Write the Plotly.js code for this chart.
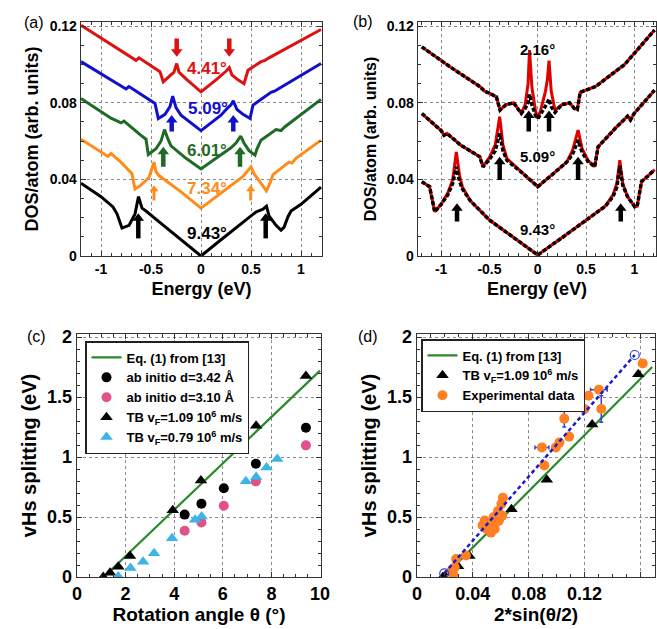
<!DOCTYPE html>
<html><head><meta charset="utf-8">
<script src="https://cdn.plot.ly/plotly-3.0.1.min.js"></script>
<style>html,body{margin:0;padding:0;background:#fff}</style>
</head><body><div id="chart" style="width:657px;height:629px"></div>
<script>
// ---------- Panel (a): DOS curves (offset) ----------
const a_E_943 = [-1.2,-1.0,-0.88,-0.84,-0.79,-0.72,-0.66,-0.625,-0.59,-0.55,-0.4,-0.2,0,0.2,0.4,0.55,0.62,0.655,0.68,0.75,0.80,0.83,0.87,0.9,1.0,1.2];
const a_D_943 = [0.038,0.031,0.0256,0.022,0.0146,0.016,0.022,0.031,0.025,0.0235,0.017,0.0085,0,0.0085,0.017,0.023,0.0245,0.026,0.021,0.016,0.0135,0.015,0.0205,0.0235,0.027,0.036];
const a_E_734 = [-1.2,-1.0,-0.93,-0.9,-0.8,-0.69,-0.66,-0.6,-0.52,-0.47,-0.45,-0.42,-0.2,0,0.2,0.42,0.46,0.5,0.53,0.6,0.655,0.69,0.72,0.88,0.91,0.95,1.2];
const a_D_734 = [0.061,0.054,0.052,0.0535,0.049,0.043,0.035,0.037,0.041,0.049,0.044,0.042,0.0335,0.025,0.033,0.0415,0.044,0.0466,0.043,0.038,0.034,0.038,0.0425,0.049,0.0485,0.051,0.0605];
const a_E_601 = [-1.2,-0.9,-0.8,-0.77,-0.6,-0.55,-0.527,-0.45,-0.4,-0.365,-0.33,-0.3,-0.15,0,0.15,0.3,0.35,0.397,0.43,0.48,0.54,0.56,0.6,0.75,0.8,0.84,1.2];
const a_D_601 = [0.0823,0.072,0.0695,0.0705,0.063,0.061,0.053,0.056,0.060,0.066,0.061,0.0575,0.051,0.0455,0.051,0.0565,0.059,0.0626,0.059,0.055,0.0527,0.056,0.0605,0.066,0.0655,0.0675,0.0818];
const a_E_509 = [-1.2,-0.8,-0.75,-0.72,-0.46,-0.427,-0.36,-0.31,-0.283,-0.25,-0.2,0,0.2,0.26,0.3,0.323,0.36,0.42,0.49,0.52,0.7,0.74,0.78,1.2];
const a_D_509 = [0.1015,0.0885,0.0872,0.0885,0.0797,0.0718,0.074,0.078,0.0835,0.0775,0.0735,0.0655,0.0735,0.077,0.079,0.081,0.0765,0.074,0.0718,0.0788,0.0855,0.0862,0.0875,0.1005];
const a_E_441 = [-1.2,-0.7,-0.65,-0.62,-0.41,-0.377,-0.32,-0.27,-0.243,-0.22,-0.15,0,0.15,0.22,0.26,0.283,0.31,0.37,0.43,0.47,0.6,0.64,0.68,1.2];
const a_D_441 = [0.1205,0.104,0.1022,0.1035,0.0962,0.091,0.0935,0.096,0.1005,0.096,0.0925,0.0857,0.092,0.095,0.097,0.0984,0.0945,0.092,0.090,0.097,0.1015,0.1022,0.1035,0.1183];
const a_labels = ['4.41°','5.09°','6.01°','7.34°','9.43°'];
const a_labelE = [0.057,0.07,0.057,0.057,0.057];
const a_labelD = [0.098,0.077,0.055,0.0353,0.0115];
const a_arrowE = [[-0.243,0.283],[-0.293,0.323],[-0.377,0.39],[-0.47,0.497],[-0.627,0.647]];
const a_arrowTip = [0.104,0.0736,0.057,0.037,0.0223];
const a_arrowBase = [0.1136,0.065,0.0466,0.029,0.0092];
const a_colors = ['#dd1111','#1111cc','#1f6b25','#ff8c1a','#000000'];

// ---------- Panel (b): TB (red) vs ab initio (black dotted) ----------
const b_E_943 = [-1.2,-1.12,-1.067,-1.0,-0.93,-0.88,-0.843,-0.81,-0.78,-0.7,-0.5,-0.25,0,0.25,0.5,0.7,0.78,0.82,0.85,0.88,0.93,1.005,1.03,1.075,1.21];
const b_blk_943 = [0.0388,0.0362,0.0231,0.027,0.032,0.038,0.0466,0.039,0.035,0.029,0.0188,0.0095,0.0005,0.0095,0.0185,0.026,0.031,0.036,0.047,0.037,0.031,0.0257,0.026,0.0388,0.045];
const b_red_943 = [0.0388,0.0362,0.0231,0.027,0.033,0.040,0.0544,0.042,0.036,0.029,0.0188,0.0095,0.0005,0.0095,0.0185,0.026,0.032,0.038,0.050,0.038,0.031,0.0257,0.026,0.0388,0.045];
const b_E_509 = [-1.2,-1.0,-0.97,-0.94,-0.8,-0.6,-0.567,-0.5,-0.44,-0.394,-0.36,-0.32,-0.15,0,0.15,0.3,0.36,0.418,0.46,0.52,0.59,0.625,0.8,0.93,0.96,1.0,1.21];
const b_blk_509 = [0.0744,0.0655,0.063,0.064,0.058,0.0518,0.0466,0.0505,0.055,0.064,0.055,0.050,0.043,0.0362,0.0425,0.049,0.053,0.0605,0.054,0.0495,0.0466,0.057,0.0665,0.073,0.071,0.0745,0.0866];
const b_red_509 = [0.0744,0.0655,0.063,0.064,0.058,0.0518,0.0466,0.0515,0.058,0.0727,0.058,0.051,0.043,0.0362,0.0425,0.049,0.055,0.0657,0.056,0.050,0.0466,0.057,0.0665,0.073,0.071,0.0745,0.0866];
const b_E_216 = [-1.2,-0.9,-0.6,-0.55,-0.5,-0.428,-0.39,-0.33,-0.25,-0.17,-0.13,-0.1,-0.085,-0.06,-0.02,0,0.03,0.08,0.1,0.117,0.14,0.18,0.25,0.33,0.38,0.41,0.44,0.6,0.9,1.21];
const b_blk_216 = [0.1092,0.0985,0.0885,0.086,0.085,0.0831,0.0762,0.079,0.080,0.0745,0.077,0.080,0.0845,0.079,0.073,0.0718,0.074,0.078,0.080,0.082,0.078,0.075,0.079,0.080,0.077,0.0765,0.0855,0.0885,0.100,0.118];
const b_red_216 = [0.1092,0.0985,0.0885,0.086,0.085,0.0831,0.0762,0.079,0.080,0.0745,0.079,0.090,0.1075,0.088,0.075,0.0718,0.076,0.086,0.092,0.102,0.086,0.076,0.079,0.080,0.077,0.0765,0.0855,0.0885,0.100,0.118];
const b_labels = ['2.16°','5.09°','9.43°'];
const b_labelE = [0.0,0.0,0.0];
const b_labelD = [0.108,0.0518,0.0136];
const b_arrowE = [[-0.093,0.117],[-0.394,0.418],[-0.836,0.86]];
const b_arrowTip = [0.076,0.0518,0.0275];
const b_arrowBase = [0.065,0.0397,0.018];

// ---------- Panel (c): vHs splitting vs angle ----------
const c_eqTheta = [1.1,10];
const c_eqSplit = [0,1.72];
const c_ai342Theta = [4.43,5.12,6.04,7.36,9.42];
const c_ai342Split = [0.52,0.61,0.74,0.944,1.244];
const c_ai310Theta = [4.43,5.12,6.04,7.36,9.42];
const c_ai310Split = [0.386,0.455,0.594,0.797,1.097];
const c_tb109Theta = [1.08,1.36,1.70,2.18,3.94,5.1,7.37,9.42];
const c_tb109Split = [0.0,0.036,0.085,0.174,0.556,0.805,1.26,1.676];
const c_tb079Theta = [1.7,2.2,2.72,3.17,3.91,4.86,5.13,6.95,7.37,7.8,8.24];
const c_tb079Split = [0.005,0.075,0.128,0.198,0.322,0.478,0.505,0.797,0.833,0.913,0.983];

// ---------- Panel (d): vHs splitting vs 2 sin(theta/2) ----------
const d_eqS = [0.019,0.1685];
const d_eqSplit = [0,1.75];
const d_tbS = [0.0186,0.024,0.0294,0.0375,0.0677,0.093,0.1255,0.1585];
const d_tbSplit = [0.0,0.035,0.09,0.175,0.565,0.81,1.27,1.69];
const d_expS = [0.0246,0.026,0.027,0.028,0.035,0.047,0.0485,0.050,0.052,0.053,0.055,0.0557,0.057,0.0587,0.058,0.061,0.0605,0.0615,0.0895,0.0912,0.0995,0.102,0.1055,0.109,0.120,0.1228,0.1303,0.132,0.1617];
const d_expSplit = [0.05,0.02,0.08,0.15,0.18,0.43,0.47,0.40,0.44,0.37,0.50,0.40,0.46,0.47,0.55,0.51,0.61,0.66,1.08,0.93,1.08,1.12,1.32,1.17,1.40,1.51,1.56,1.40,1.78];
const d_expErrS = [0,0,0,0,0,0,0,0,0,0,0,0,0,0,0,0,0,0,0.005,0,0,0,0,0,0,0,0.006,0,0];
const d_expErrSplit = [0,0,0,0,0,0,0,0,0,0,0,0,0,0,0,0,0,0,0,0,0,0,0.07,0,0,0,0,0.11,0];
const d_fitS = [0.0195,0.156];
const d_fitSplit = [0.03,1.85];

const FONT = 'Liberation Sans, Arial, sans-serif';
const H = 629, W = 657;
const traces = [];
function curve(x, y, color, xa, ya, extra) {
  traces.push(Object.assign({x:x, y:y, mode:'lines', type:'scatter', xaxis:xa, yaxis:ya, showlegend:false, hoverinfo:'skip',
    line:{color:color, width:3}}, extra||{}));
}
// (a)
curve(a_E_943, a_D_943, a_colors[4], 'x', 'y');
curve(a_E_734, a_D_734, a_colors[3], 'x', 'y');
curve(a_E_601, a_D_601, a_colors[2], 'x', 'y');
curve(a_E_509, a_D_509, a_colors[1], 'x', 'y');
curve(a_E_441, a_D_441, a_colors[0], 'x', 'y');
// (b)
const bE = [b_E_943, b_E_509, b_E_216], bR = [b_red_943, b_red_509, b_red_216], bB = [b_blk_943, b_blk_509, b_blk_216];
for (let i = 0; i < 3; i++) curve(bE[i], bR[i], '#e00000', 'x2', 'y2');
for (let i = 0; i < 3; i++) curve(bE[i], bB[i], '#000000', 'x2', 'y2', {line:{color:'#000', width:3.5, dash:'4px,2px'}});

// arrows (shaft + triangular head) pointing at the van Hove peaks
const pxPerDOS = 234 / 0.1222;
function arrows(Es, tip, base, xa, ya, color, w, headSize) {
  const dir = tip > base ? 1 : -1;
  const off = dir * (headSize * 0.5) / pxPerDOS;   // head centre lies half a head below the tip
  const sx = [], sy = [], hx = [], hy = [];
  Es.forEach(e => { sx.push(e, e, null); sy.push(base, tip - off, null); hx.push(e); hy.push(tip - off); });
  traces.push({x:sx, y:sy, mode:'lines', xaxis:xa, yaxis:ya, showlegend:false, hoverinfo:'skip', line:{color:color, width:w}});
  traces.push({x:hx, y:hy, mode:'markers', xaxis:xa, yaxis:ya, showlegend:false, hoverinfo:'skip',
    marker:{symbol: dir > 0 ? 'triangle-up' : 'triangle-down', size:headSize, color:color, line:{width:0}}});
}
a_arrowE.forEach((pair, i) => arrows(pair, a_arrowTip[i], a_arrowBase[i], 'x', 'y', a_colors[i], i === 3 ? 3 : 4.5, i === 3 ? 8 : 10));
b_arrowE.forEach((pair, i) => arrows(pair, b_arrowTip[i], b_arrowBase[i], 'x2', 'y2', '#000', 4.5, 10));

// (c)
traces.push({x:c_eqTheta, y:c_eqSplit, mode:'lines', xaxis:'x3', yaxis:'y3', name:'Eq. (1) from [13]', line:{color:'#2a8a2a', width:2.2}, legend:'legend'});
traces.push({x:c_ai342Theta, y:c_ai342Split, mode:'markers', xaxis:'x3', yaxis:'y3', name:'ab initio d=3.42 Å', marker:{color:'#000', size:10, symbol:'circle'}, legend:'legend'});
traces.push({x:c_ai310Theta, y:c_ai310Split, mode:'markers', xaxis:'x3', yaxis:'y3', name:'ab initio d=3.10 Å', marker:{color:'#e0528c', size:10, symbol:'circle'}, legend:'legend'});
traces.push({x:c_tb109Theta, y:c_tb109Split, mode:'markers', xaxis:'x3', yaxis:'y3', name:'TB v<sub>F</sub>=1.09 10<sup>6</sup> m/s', marker:{color:'#000', size:11, symbol:'triangle-up'}, legend:'legend'});
traces.push({x:c_tb079Theta, y:c_tb079Split, mode:'markers', xaxis:'x3', yaxis:'y3', name:'TB v<sub>F</sub>=0.79 10<sup>6</sup> m/s', marker:{color:'#3bb4e6', size:11, symbol:'triangle-up'}, legend:'legend'});
// (d)
traces.push({x:d_eqS, y:d_eqSplit, mode:'lines', xaxis:'x4', yaxis:'y4', name:'Eq. (1) from [13]', line:{color:'#2a8a2a', width:2.2}, legend:'legend2'});
traces.push({x:d_tbS, y:d_tbSplit, mode:'markers', xaxis:'x4', yaxis:'y4', name:'TB v<sub>F</sub>=1.09 10<sup>6</sup> m/s', marker:{color:'#000', size:11, symbol:'triangle-up'}, legend:'legend2'});
traces.push({x:d_expS, y:d_expSplit, mode:'markers', xaxis:'x4', yaxis:'y4', name:'Experimental data', marker:{color:'#ff7f22', size:10, symbol:'circle'},
  error_x:{type:'data', array:d_expErrS, visible:true, color:'#3344dd', thickness:1.5, width:2},
  error_y:{type:'data', array:d_expErrSplit, visible:true, color:'#3344dd', thickness:1.5, width:2}, legend:'legend2'});
traces.push({x:d_fitS, y:d_fitSplit, mode:'lines+markers', xaxis:'x4', yaxis:'y4', showlegend:false, line:{color:'#1a1acc', width:2.5, dash:'4px,3px'}, marker:{symbol:'circle-open', size:9, color:'#3344cc', line:{width:1.2}}});

function axis(extra, fs) {
  return Object.assign({showline:true, linecolor:'#333', linewidth:1.3, mirror:'ticks', ticks:'inside', ticklen:5, tickcolor:'#333', tickwidth:1,
    showgrid:true, gridcolor:'#8a8a8a', griddash:'dot', gridwidth:1, zeroline:false, automargin:false,
    tickfont:{family:FONT, size:fs, weight:'bold', color:'#000'}}, extra);
}
const yTopAB = 1 - 22/H, yBotAB = 1 - 256/H, yTopCD = 1 - 334/H, yBotCD = 1 - 577/H;
const annotations = [];
function label(text, x, y, xref, yref, size, color) {
  annotations.push({text:text, x:x, y:y, xref:xref, yref:yref, showarrow:false, font:{family:FONT, size:size, weight:'bold', color:color}});
}
a_labels.forEach((t, i) => label(t, a_labelE[i], a_labelD[i], 'x', 'y', 17, a_colors[i]));
b_labels.forEach((t, i) => label(t, b_labelE[i], b_labelD[i], 'x2', 'y2', 15, '#000'));
[['(a)', 22, 12], ['(b)', 363, 11], ['(c)', 25, 336], ['(d)', 368, 336]].forEach(p => {
  annotations.push({text:p[0], x:p[1]/W, y:1 - p[2]/H, xref:'paper', yref:'paper', showarrow:false, font:{family:FONT, size:16, color:'#000'}});
});

const layout = {
  width:W, height:H, margin:{l:0, r:0, t:0, b:0}, paper_bgcolor:'#fff', plot_bgcolor:'#fff',
  font:{family:FONT, color:'#000'},
  xaxis: axis({domain:[81/W, 322/W], anchor:'y', range:[-1.2, 1.21], tickvals:[-1,-0.5,0,0.5,1], ticktext:['-1','-0.5','0','0.5','1'],
    minor:{dtick:0.1, ticks:'inside', ticklen:3, tickcolor:'#333', showgrid:false},
    title:{text:'Energy (eV)', font:{size:18, weight:'bold'}, standoff:6}}, 14),
  yaxis: axis({domain:[yBotAB, yTopAB], anchor:'x', range:[0, 0.1222], tickvals:[0,0.04,0.08,0.12], ticktext:['0','0.04','0.08','0.12'],
    minor:{dtick:0.01, ticks:'inside', ticklen:3, tickcolor:'#333', showgrid:false},
    title:{text:'DOS/atom (arb. units)', font:{size:18, weight:'bold'}, standoff:6}}, 14),
  xaxis2: axis({domain:[418/W, 656/W], anchor:'y2', range:[-1.24, 1.225], tickvals:[-1,-0.5,0,0.5,1], ticktext:['-1','-0.5','0','0.5','1'],
    minor:{dtick:0.1, ticks:'inside', ticklen:3, tickcolor:'#333', showgrid:false},
    title:{text:'Energy (eV)', font:{size:18, weight:'bold'}, standoff:6}}, 14),
  yaxis2: axis({domain:[yBotAB, yTopAB], anchor:'x2', range:[0, 0.1222], tickvals:[0,0.04,0.08,0.12], ticktext:['0','0.04','0.08','0.12'],
    minor:{dtick:0.01, ticks:'inside', ticklen:3, tickcolor:'#333', showgrid:false},
    title:{text:'DOS/atom (arb. units)', font:{size:16, weight:'bold'}, standoff:6}}, 14),
  xaxis3: axis({domain:[77/W, 321/W], anchor:'y3', range:[0, 10.04], tickvals:[0,2,4,6,8,10],
    minor:{dtick:0.5, ticks:'inside', ticklen:3, tickcolor:'#333', showgrid:false},
    title:{text:'Rotation angle θ (°)', font:{size:19, weight:'bold'}, standoff:4}}, 18),
  yaxis3: axis({domain:[yBotCD, yTopCD], anchor:'x3', range:[0, 2.025], tickvals:[0,0.5,1,1.5,2], ticktext:['0','0.5','1','1.5','2'],
    minor:{dtick:0.1, ticks:'inside', ticklen:3, tickcolor:'#333', showgrid:false},
    title:{text:'vHs splitting (eV)', font:{size:20, weight:'bold'}, standoff:5}}, 18),
  xaxis4: axis({domain:[417/W, 655/W], anchor:'y4', range:[0, 0.1705], tickvals:[0,0.04,0.08,0.12,0.16], ticktext:['0','0.04','0.08','0.12','0.16'],
    minor:{dtick:0.01, ticks:'inside', ticklen:3, tickcolor:'#333', showgrid:false},
    title:{text:'2*sin(θ/2)', font:{size:19, weight:'bold'}, standoff:4}}, 18),
  yaxis4: axis({domain:[yBotCD, yTopCD], anchor:'x4', range:[0, 2.025], tickvals:[0,0.5,1,1.5,2], ticktext:['0','0.5','1','1.5','2'],
    minor:{dtick:0.1, ticks:'inside', ticklen:3, tickcolor:'#333', showgrid:false},
    title:{text:'vHs splitting (eV)', font:{size:20, weight:'bold'}, standoff:5}}, 18),
  legend: {x:85/W, y:1 - 341/H, xanchor:'left', yanchor:'top', bgcolor:'#fff', bordercolor:'#222', borderwidth:1.5,
    font:{family:FONT, size:13, weight:'bold', color:'#000'}, tracegroupgap:0, itemwidth:30},
  legend2: {x:421/W, y:1 - 339/H, xanchor:'left', yanchor:'top', bgcolor:'#fff', bordercolor:'#222', borderwidth:1.5,
    font:{family:FONT, size:13, weight:'bold', color:'#000'}, tracegroupgap:0, itemwidth:30},
  annotations: annotations,
  showlegend: true
};
Plotly.newPlot('chart', traces, layout, {staticPlot:true, displayModeBar:false});
</script></body></html>
